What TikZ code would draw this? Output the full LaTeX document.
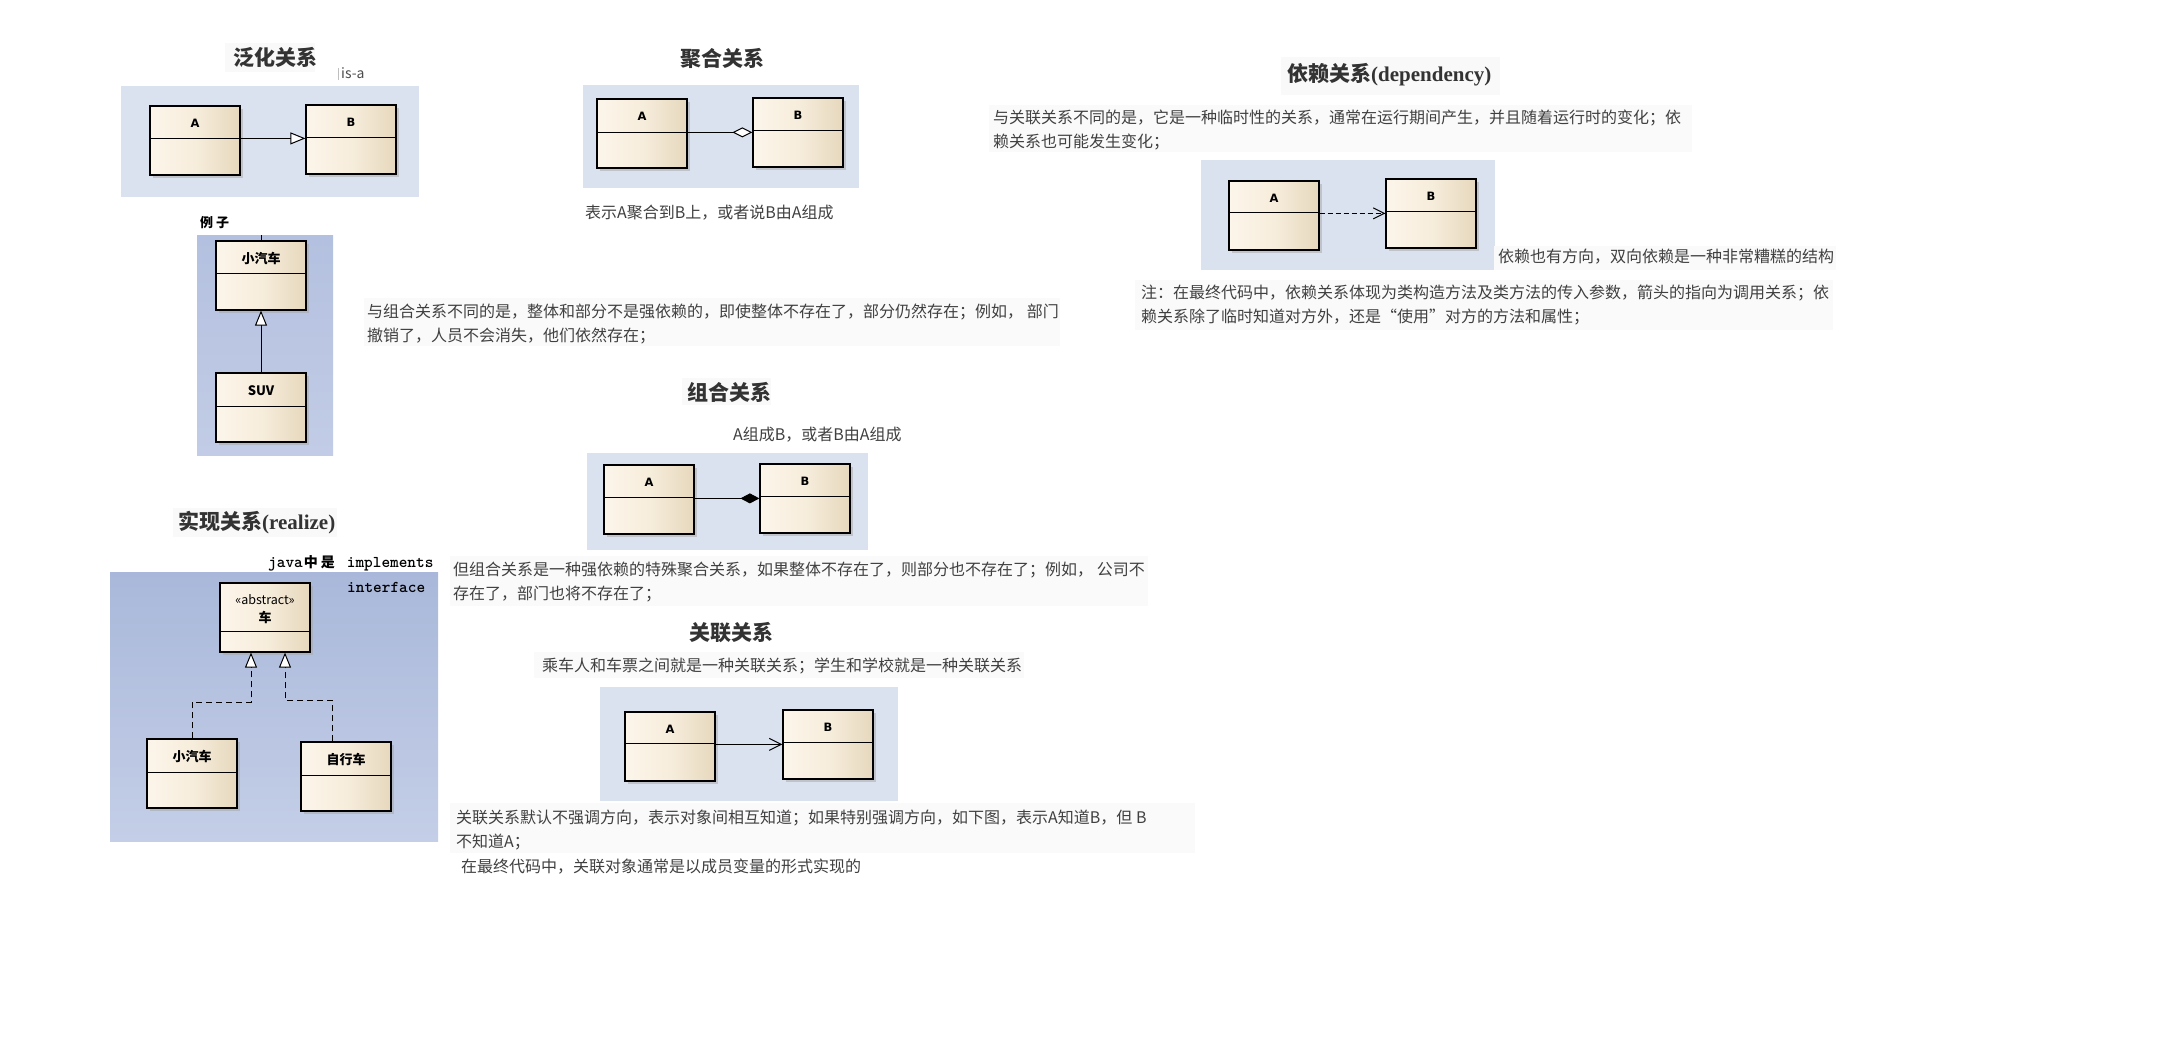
\documentclass[tikz,border=0pt]{standalone}
\usepackage{fontspec}
\setmainfont{Noto Sans CJK SC}
\newfontfamily\latserif{Liberation Serif}
\newfontfamily\latsans{DejaVu Sans}
\usetikzlibrary{arrows.meta,calc,shadows}
\definecolor{panel}{HTML}{DBE2EF}
\definecolor{panelBa}{HTML}{B3C0DF}
\definecolor{panelBb}{HTML}{C2CCE6}
\definecolor{panelRa}{HTML}{A9B8DA}
\definecolor{panelRb}{HTML}{C4CEE7}
\definecolor{boxL}{HTML}{FCF5EA}
\definecolor{boxM}{HTML}{F7EDDC}
\definecolor{boxR}{HTML}{E6D8BD}
\definecolor{txt}{HTML}{404040}
\definecolor{ttlc}{HTML}{333333}
\definecolor{parbg}{HTML}{FAFAFA}
\definecolor{ttlbg}{HTML}{F9F9F9}
\tikzset{
  cls/.style={draw=black, line width=1.2pt, minimum width=90pt, minimum height=69pt, inner sep=0pt,
    left color=boxL, right color=boxR, middle color=boxM,
    drop shadow={shadow xshift=3pt,shadow yshift=-3pt,fill=black!35}},
  clslbl/.style={font=\latsans\bfseries\fontsize{11.5}{13}\selectfont, inner sep=0pt},
  clscjk/.style={font=\bfseries\fontsize{13}{15}\selectfont, inner sep=0pt},
  ttl/.style={font=\bfseries\fontsize{21}{24}\selectfont, text=ttlc, inner sep=0pt, anchor=west},
  para/.style={font=\fontsize{16}{24}\selectfont, text=txt, inner sep=0pt, anchor=west},
  conn/.style={line width=1pt, draw=black},
  gentip/.style={-{Triangle[open,length=15pt,width=12pt,fill=white]}},
  mono/.style={font=\ttfamily\bfseries\fontsize{16.5}{18}\selectfont, inner sep=0pt, anchor=west},
}
\newcommand\umlbox[6]{%
  \node[cls] (#1) at ({#2+45},{#3+34.5}) {};
  \draw[line width=1pt] ($(#1.north west)+(0,#5)$) -- ($(#1.north east)+(0,#5)$);
  \node[#6] (#1-l) at ($(#1.north)+(0,18)$) {#4};
}
\begin{document}
\begin{tikzpicture}[x=1pt,y=-1pt]
\fill[white] (0,0) rectangle (2168,1040);
\useasboundingbox (0,0) rectangle (2168,1040);

% panels
\fill[panel] (121,86) rectangle (419,197);
\shade[top color=panelBa,bottom color=panelBb] (197,236) rectangle (333,455);
\fill[panel] (583,85) rectangle (859,188);
\fill[panel] (587,453) rectangle (868,550);
\fill[panel] (600,687) rectangle (898,801);
\fill[panel] (1201,160) rectangle (1495,270);
\shade[top color=panelRa,bottom color=panelRb] (110,572) rectangle (438,841);

% text backgrounds
\fill[parbg] (364,298) rectangle (1060,346);
\fill[parbg] (450,556) rectangle (1148,606);
\fill[parbg] (534,652) rectangle (1024,678);
\fill[parbg] (450,803) rectangle (1195,853);
\fill[parbg] (989,105) rectangle (1692,152);
\fill[parbg] (1494,246) rectangle (1836,270);
\fill[parbg] (1135,280) rectangle (1833,330);
\fill[ttlbg] (225,43) rectangle (315,72);
\fill[ttlbg] (1281,57) rectangle (1500,95);
\fill[ttlbg] (173,508) rectangle (337,537);
\fill[ttlbg] (682,378) rectangle (771,405);

% titles
\begin{scope}
  \clip (220,38) rectangle (315,80);
  \node[ttl] (t1) at (233,59) {泛化关系{\latserif (}};
\end{scope}
\begin{scope}
  \clip (670,38) rectangle (762,80);
  \node[ttl] (t2) at (680,60) {聚合关系{\latserif (}};
\end{scope}
\node[ttl] (t3) at (687,392) {组合关系};
\begin{scope}
  \clip (680,615) rectangle (773,655);
  \node[ttl] (t4) at (689,634) {关联关系{\latserif (}};
\end{scope}
\node[ttl] (t5) at (1287,75) {依赖关系{\latserif (dependency)}};
\node[ttl] (t6) at (178,523) {实现关系{\latserif (realize)}};

% small labels
\draw[black!25, line width=0.8pt] (338,68) -- (338,80);
\node[font=\fontsize{14}{16}\selectfont, text=black!70, inner sep=0pt, anchor=west] (isa) at (341,73) {is-a};
\node[font=\bfseries\fontsize{13}{15}\selectfont, inner sep=0pt, anchor=west] (ex) at (200,223) {例\hspace{3pt}子};
\node[mono] (java) at (268,563) {java{\rmfamily\bfseries\fontsize{14}{16}\selectfont\hspace{1pt}中\hspace{3pt}是}\hspace{12pt}implements};
\node[mono] (intf) at (347,587) {interface};

% paragraphs
\node[para] (p1) at (585,213) {表示A聚合到B上，或者说B由A组成};
\node[para] (p2) at (367,312) {与组合关系不同的是，整体和部分不是强依赖的，即使整体不存在了，部分仍然存在；例如， 部门};
\node[para] (p2b) at (367,336) {撤销了，人员不会消失，他们依然存在；};
\node[para] (p3) at (733,435) {A组成B，或者B由A组成};
\node[para] (p4) at (453,570) {但组合关系是一种强依赖的特殊聚合关系，如果整体不存在了，则部分也不存在了；例如， 公司不};
\node[para] (p4b) at (453,594) {存在了，部门也将不存在了；};
\node[para] (p5) at (542,666) {乘车人和车票之间就是一种关联关系；学生和学校就是一种关联关系};
\node[para] (p6) at (456,818) {关联关系默认不强调方向，表示对象间相互知道；如果特别强调方向，如下图，表示A知道B，但 B};
\node[para] (p6b) at (456,842) {不知道A；};
\node[para] (p7) at (461,867) {在最终代码中，关联对象通常是以成员变量的形式实现的};
\node[para] (p8) at (993,118) {与关联关系不同的是，它是一种临时性的关系，通常在运行期间产生，并且随着运行时的变化；依};
\node[para] (p8b) at (993,142) {赖关系也可能发生变化；};
\node[para] (p9) at (1498,257) {依赖也有方向，双向依赖是一种非常糟糕的结构};
\node[para] (p10) at (1141,293) {注：在最终代码中，依赖关系体现为类构造方法及类方法的传入参数，箭头的指向为调用关系；依};
\node[para] (p10b) at (1141,317) {赖关系除了临时知道对方外，还是“使用”对方的方法和属性；};

% class boxes
\umlbox{gA}{150}{106}{A}{33}{clslbl}
\umlbox{gB}{306}{105}{B}{33}{clslbl}
\umlbox{eCar}{216}{241}{小汽车}{33}{clscjk}
\umlbox{eSUV}{216}{373}{SUV}{34}{clscjk}
\umlbox{aA}{597}{99}{A}{34}{clslbl}
\umlbox{aB}{753}{98}{B}{33}{clslbl}
\umlbox{cA}{604}{465}{A}{33}{clslbl}
\umlbox{cB}{760}{464}{B}{33}{clslbl}
\umlbox{sA}{625}{712}{A}{32}{clslbl}
\umlbox{sB}{783}{710}{B}{33}{clslbl}
\umlbox{dA}{1229}{181}{A}{32}{clslbl}
\umlbox{dB}{1386}{179}{B}{33}{clslbl}
\umlbox{rSmall}{147}{739}{小汽车}{34}{clscjk}
\umlbox{rBike}{301}{742}{自行车}{34}{clscjk}
% abstract class
\node[cls] (rCar) at (265,617.5) {};
\draw[line width=1pt] ($(rCar.north west)+(0,49)$) -- ($(rCar.north east)+(0,49)$);
\node[font=\fontsize{12.5}{14}\selectfont, inner sep=0pt] (rCar-s) at ($(rCar.north)+(0,17)$) {«abstract»};
\node[clscjk] (rCar-l) at ($(rCar.north)+(0,35)$) {车};

% connectors
\draw[conn] ([yshift=5pt]eCar.north) -- (eCar.north);
\coordinate (gAd) at ($(gA.north east)+(0,33)$);
\draw[conn,gentip] (gAd) -- (gAd -| gB.west);
\draw[conn,gentip] (eSUV.north) -- (eCar.south);
\coordinate (aAd) at ($(aA.north east)+(0,34)$);
\draw[conn,-{Diamond[open,length=20pt,width=10pt,fill=white]}] (aAd) -- (aAd -| aB.west);
\coordinate (cAd) at ($(cA.north east)+(0,34)$);
\draw[conn,-{Diamond[length=19pt,width=10pt]}] (cAd) -- (cAd -| cB.west);
\coordinate (sAd) at ($(sA.north east)+(0,33)$);
\draw[conn,-{Straight Barb[length=12pt,width=12pt]}] (sAd) -- (sAd -| sB.west);
\coordinate (dAd) at ($(dA.north east)+(0,33)$);
\draw[conn,dash pattern=on 5pt off 3pt,-{Straight Barb[length=11pt,width=11pt]}] (dAd) -- (dAd -| dB.west);
\coordinate (rL) at ([xshift=-14pt]rCar.south);
\coordinate (rR) at ([xshift=20pt]rCar.south);
\coordinate (rBk) at ([xshift=-14pt]rBike.north);
\draw[conn,dash pattern=on 6pt off 4pt,gentip] (rSmall.north) -- ++(0,-36) -| (rL);
\draw[conn,dash pattern=on 6pt off 4pt,gentip] (rBk) -- ++(0,-41) -| (rR);
\end{tikzpicture}
\end{document}
